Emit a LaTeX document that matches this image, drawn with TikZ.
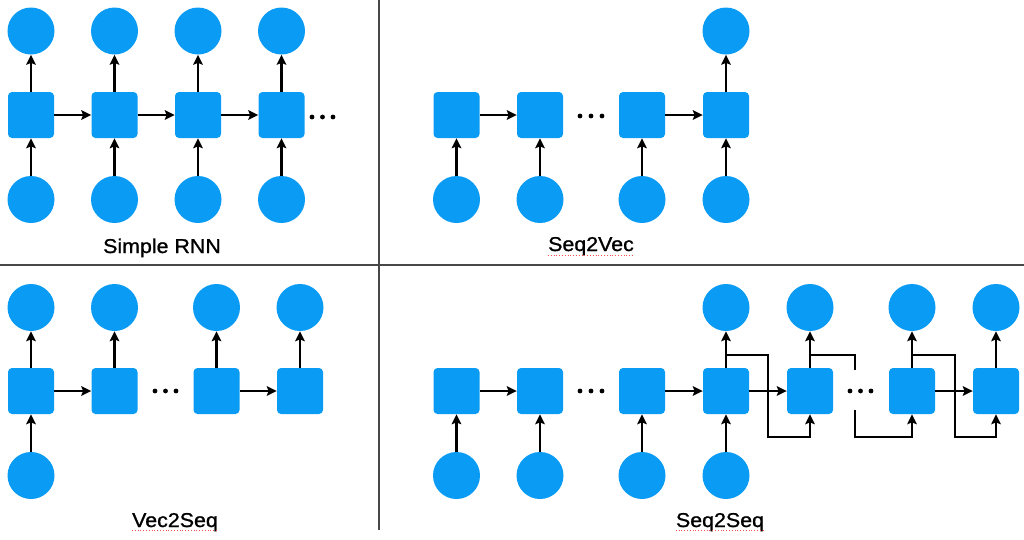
\documentclass[tikz,border=0pt]{standalone}
\usepackage{fontspec}
\setmainfont{Liberation Sans}
\newfontfamily\lblfont[FakeStretch=1.07,FakeBold=1.0]{Liberation Sans}
\usetikzlibrary{arrows.meta}
\definecolor{nodeblue}{RGB}{10,155,245}
\begin{document}
\begin{tikzpicture}[x=1pt,y=-1pt,
  cell/.style={fill=nodeblue,draw=none,rounded corners=4pt,minimum size=46pt,inner sep=0pt},
  io/.style={circle,fill=nodeblue,draw=none,minimum size=47pt,inner sep=0pt},
  conn/.style={line width=2.4pt,-{Stealth[length=10pt,width=9.5pt,inset=1.8pt]}},
  plain/.style={line width=2.4pt},
  divider/.style={line width=1.6pt,draw=black!72},
  lbl/.style={font=\lblfont\fontsize{20}{24}\selectfont,anchor=base,inner sep=0pt},
  squiggle/.style={draw=red!70,line width=0.8pt,dotted},
  dot/.style={circle,fill=black,inner sep=0pt,minimum size=4.8pt}]
\useasboundingbox (0,0) rectangle (1024,539);

% dividers
\draw[divider] (0,265) -- (1024,265);
\draw[divider] (379,0) -- (379,530);

% ---------------- Simple RNN ----------------
\foreach \i/\x in {1/31,2/114.5,3/198,4/281.5}{
  \node[cell] (a\i) at (\x,115) {};
  \node[io] (ao\i) at (\x,31) {};
  \node[io] (ai\i) at (\x,199.5) {};
  \draw[conn] (a\i.north) -- (ao\i.south);
  \draw[conn] (ai\i.north) -- (a\i.south);
}
\draw[conn] (a1.east) -- (a2.west);
\draw[conn] (a2.east) -- (a3.west);
\draw[conn] (a3.east) -- (a4.west);
\node[dot] (ad1) at (312,117) {};
\node[dot] (ad2) at (322.5,117) {};
\node[dot] (ad3) at (333,117) {};
\node[lbl] (albl) at (162,253) {Simple RNN};

% ---------------- Seq2Vec ----------------
\foreach \i/\x in {1/456.5,2/540,3/642,4/726}{
  \node[cell] (b\i) at (\x,115) {};
  \node[io] (bi\i) at (\x,199.5) {};
  \draw[conn] (bi\i.north) -- (b\i.south);
}
\node[io] (bo4) at (726,31) {};
\draw[conn] (b4.north) -- (bo4.south);
\draw[conn] (b1.east) -- (b2.west);
\draw[conn] (b3.east) -- (b4.west);
\node[dot] (bd1) at (580,116) {};
\node[dot] (bd2) at (591,116) {};
\node[dot] (bd3) at (602,116) {};
\node[lbl] (blbl) at (591,251) {Seq2Vec};
\draw[squiggle] ([yshift=-4pt]blbl.base west) -- ([yshift=-4pt]blbl.base east);

% ---------------- Vec2Seq ----------------
\foreach \i/\x in {1/31,2/114.5,3/216.5,4/300}{
  \node[cell] (c\i) at (\x,391) {};
  \node[io] (co\i) at (\x,307.5) {};
  \draw[conn] (c\i.north) -- (co\i.south);
}
\node[io] (ci1) at (31,475.5) {};
\draw[conn] (ci1.north) -- (c1.south);
\draw[conn] (c1.east) -- (c2.west);
\draw[conn] (c3.east) -- (c4.west);
\node[dot] (cd1) at (155,391) {};
\node[dot] (cd2) at (165.5,391) {};
\node[dot] (cd3) at (176,391) {};
\node[lbl] (clbl) at (175,527) {Vec2Seq};
\draw[squiggle] ([yshift=-3pt]clbl.base west) -- ([yshift=-3pt]clbl.base east);

% ---------------- Seq2Seq ----------------
\foreach \i/\x in {1/456.5,2/540,3/642,4/726,5/810,6/912,7/996}{
  \node[cell] (d\i) at (\x,391) {};
}
\foreach \i in {1,2,3,4}{
  \path (d\i) ++(0,84.5) node[io] (di\i) {};
  \draw[conn] (di\i.north) -- (d\i.south);
}
\foreach \i in {4,5,6,7}{
  \path (d\i) ++(0,-83.5) node[io] (do\i) {};
  \draw[conn] (d\i.north) -- (do\i.south);
}
\draw[conn] (d1.east) -- (d2.west);
\draw[conn] (d3.east) -- (d4.west);
\draw[conn] (d4.east) -- (d5.west);
\draw[conn] (d6.east) -- (d7.west);
\node[dot] (dd1) at (580,391) {};
\node[dot] (dd2) at (591,391) {};
\node[dot] (dd3) at (602,391) {};
\node[dot] (dd4) at (850,391) {};
\node[dot] (dd5) at (860.5,391) {};
\node[dot] (dd6) at (871,391) {};
% feedback connectors
\coordinate (f4) at (726,355);
\coordinate (f5) at (810,355);
\coordinate (f6) at (912,355);
\coordinate (g5) at (855,410);
\draw[conn] (f4) -- ++(42,0) -- ++(0,82) -| (d5.south);
\draw[plain] (f5) -- ++(45,0) -- ++(0,15);
\draw[conn] (g5) -- ++(0,27) -| (d6.south);
\draw[conn] (f6) -- ++(43,0) -- ++(0,82) -| (d7.south);
\node[lbl] (dlbl) at (720,527) {Seq2Seq};
\draw[squiggle] ([yshift=-3pt]dlbl.base west) -- ([yshift=-3pt]dlbl.base east);
\end{tikzpicture}
\end{document}
